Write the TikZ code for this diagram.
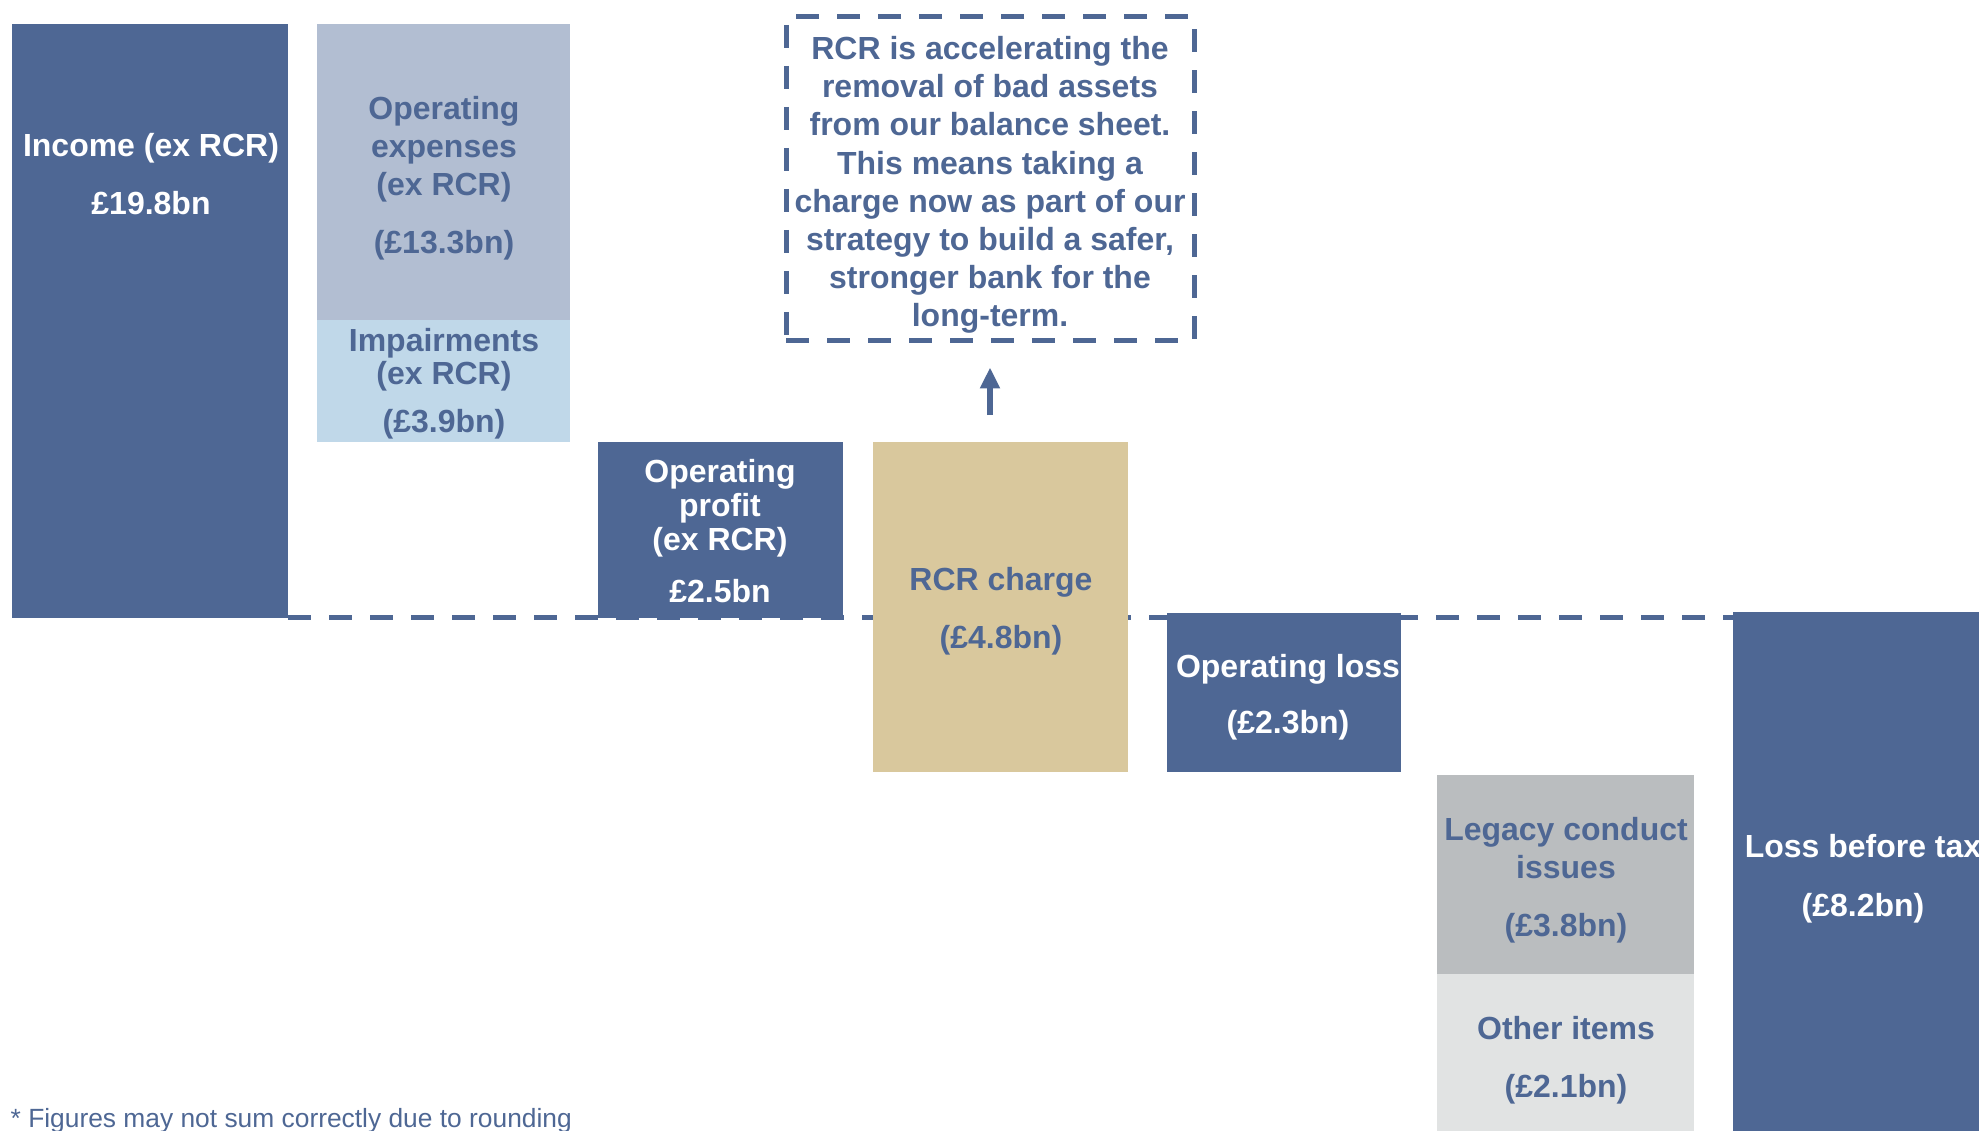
\documentclass[tikz,border=0pt]{standalone}
\usepackage{fontspec}
\setmainfont{Liberation Sans}
\usetikzlibrary{arrows.meta, backgrounds}
\definecolor{barblue}{HTML}{4E6794}
\definecolor{opexgrey}{HTML}{B2BED2}
\definecolor{impblue}{HTML}{C0D8E9}
\definecolor{rcrtan}{HTML}{D9C89D}
\definecolor{legacygrey}{HTML}{BABDBF}
\definecolor{othergrey}{HTML}{E1E3E3}
\tikzset{
  bar/.style={anchor=north west, inner sep=0pt, outer sep=0pt},
  lbl/.style={align=center, inner sep=0pt, font=\fontsize{9.1}{10.8}\selectfont\bfseries},
  dashline/.style={draw=barblue, line width=0.5mm, dash pattern=on 2.3mm off 1.8mm},
}

\begin{document}
\begin{tikzpicture}[x=0.1mm, y=-0.1mm]
\useasboundingbox (0,0) rectangle (1979,1131);
\coordinate (base) at (0,617);

% Bars
\node[bar, fill=barblue, minimum width=27.6mm, minimum height=59.4mm] (income) at (12,24) {};
\node[bar, fill=opexgrey, minimum width=25.3mm, minimum height=29.6mm] (opex) at (317,24) {};
\node[bar, fill=impblue, minimum width=25.3mm, minimum height=12.2mm] (imp) at (317,320) {};
\node[bar, fill=barblue, minimum width=24.5mm, minimum height=17.6mm] (opprofit) at (598,442) {};
\node[bar, fill=rcrtan, minimum width=25.5mm, minimum height=33.0mm] (rcr) at (873,442) {};
\node[bar, fill=barblue, minimum width=23.4mm, minimum height=15.9mm] (oploss) at (1167,613) {};
\node[bar, fill=legacygrey, minimum width=25.7mm, minimum height=19.9mm] (legacy) at (1437,775) {};
\node[bar, fill=othergrey, minimum width=25.7mm, minimum height=15.7mm] (other) at (1437,974) {};
\node[bar, fill=barblue, minimum width=24.6mm, minimum height=51.9mm] (lbt) at (1733,612) {};

% Zero line behind the bars
\begin{scope}[on background layer]
\draw[dashline] (income.east |- base) -- (lbt.west |- base);
\end{scope}

% Labels
\node[lbl, text=white] (incometext) at (151,174) {Income (ex RCR)\\[2mm]£19.8bn};
\node[lbl, text=barblue] (opextext) at (444,178) {Operating\\expenses\\(ex RCR)\\[2mm](£13.3bn)};
\node[lbl, text=barblue] (imptext) at (444,384) {Impairments\\[-0.55mm](ex RCR)\\[1.1mm](£3.9bn)};
\node[lbl, text=white] (opprofittext) at (720,531) {Operating\\[-0.4mm]profit\\[-0.4mm](ex RCR)\\[1.4mm]£2.5bn};
\node[lbl, text=barblue] (rcrtext) at (1001,611) {RCR charge\\[2mm](£4.8bn)};
\node[lbl, text=white] (oplosstext) at (1288,697) {Operating loss\\[1.8mm](£2.3bn)};
\node[lbl, text=barblue] (legacytext) at (1566,880) {Legacy conduct\\issues\\[2mm](£3.8bn)};
\node[lbl, text=barblue] (othertext) at (1566,1060) {Other items\\[2mm](£2.1bn)};
\node[lbl, text=white] (lbttext) at (1863,879) {Loss before tax\\[2.1mm](£8.2bn)};

% Note box and arrow
\node[lbl, font=\fontsize{9.1}{10.87}\selectfont\bfseries, text=barblue, dashline, minimum width=40.8mm, minimum height=32.4mm] (note) at (990,179)
  {\rule{0pt}{3.5mm}RCR is accelerating the\\removal of bad assets\\from our balance sheet.\\This means taking a\\charge now as part of our\\strategy to build a safer,\\stronger bank for the\\long-term.};
\draw[-{Triangle[width=1.9mm, length=2.1mm]}, draw=barblue, line width=0.55mm, shorten <=2.7mm, shorten >=2.4mm]
  (note.south |- rcr.north) -- (note.south);

\node[anchor=base west, inner sep=0pt, text=barblue, font=\fontsize{7.5}{9}\selectfont] (footnote) at (10,1127)
  {* Figures may not sum correctly due to rounding};
\end{tikzpicture}
\end{document}
